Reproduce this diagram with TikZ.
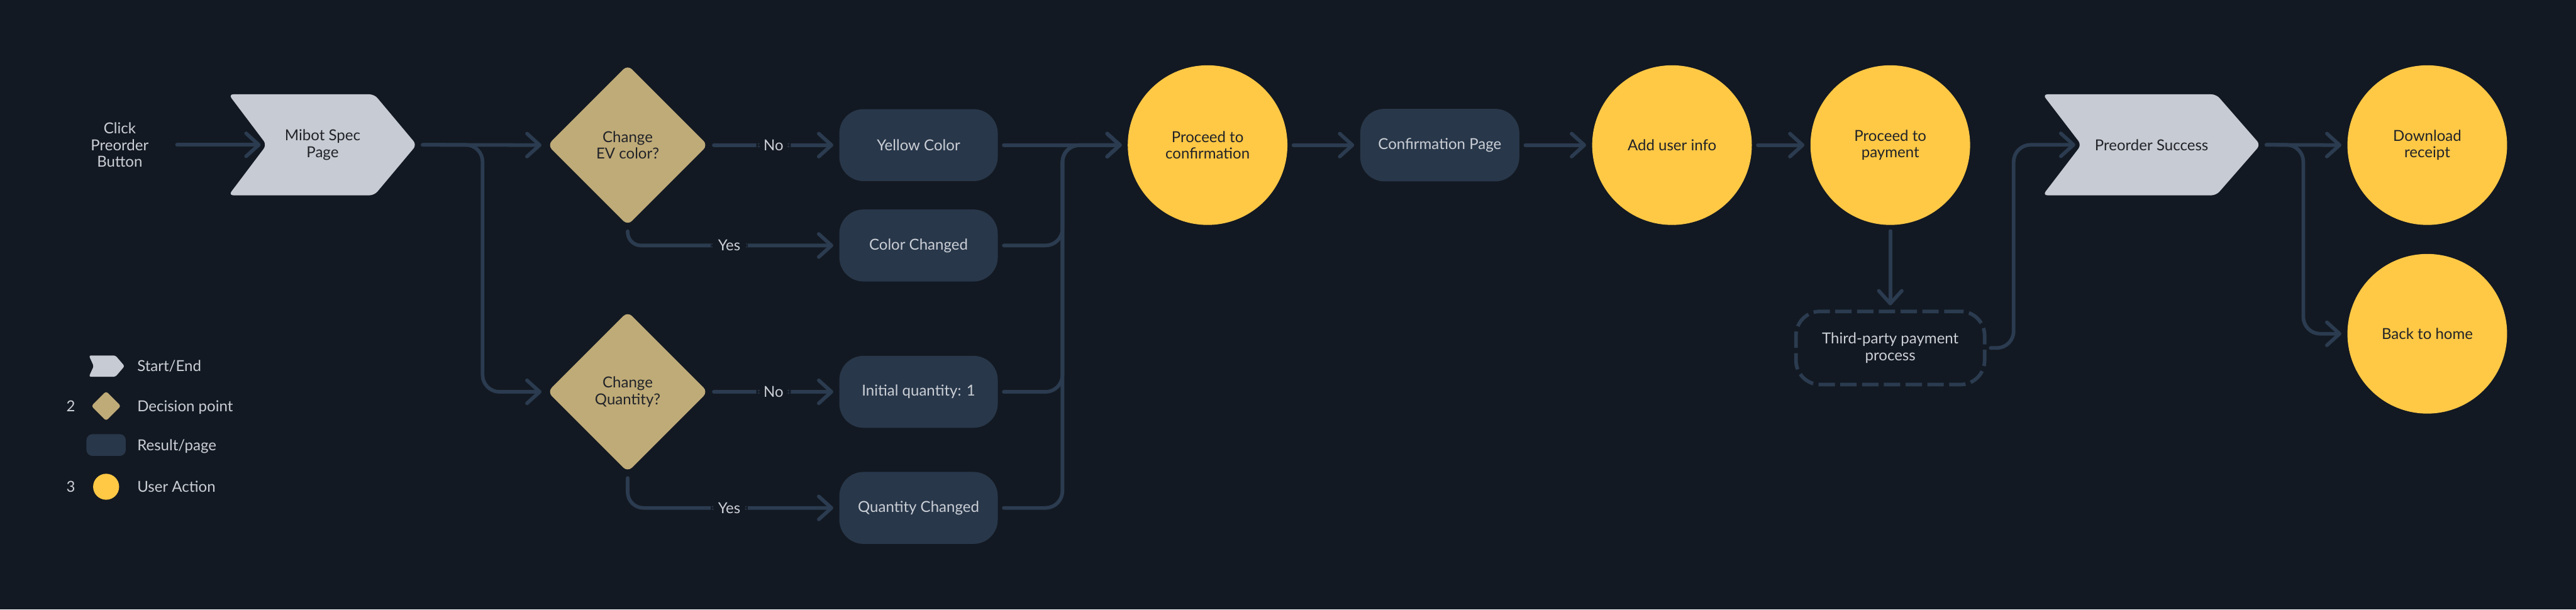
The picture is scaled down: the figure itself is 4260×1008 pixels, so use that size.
\documentclass[tikz,border=0pt]{standalone}
\usepackage{fontspec}
\setmainfont{Lato}
\usetikzlibrary{shapes.geometric,arrows.meta,backgrounds}
\definecolor{bgc}{RGB}{19,25,34}
\definecolor{linec}{RGB}{43,59,80}
\definecolor{boxc}{RGB}{40,55,74}
\definecolor{chevc}{RGB}{199,203,211}
\definecolor{diac}{RGB}{191,171,120}
\definecolor{yelc}{RGB}{255,200,69}
\definecolor{lighttext}{RGB}{203,207,214}
\definecolor{darktext}{RGB}{33,35,40}
\begin{document}
\begin{tikzpicture}[x=1pt,y=-1pt,
  every node/.style={font=\fontsize{25}{27.5}\selectfont, align=center, inner sep=0pt, outer sep=0pt},
  conn/.style={draw=linec, line width=6pt, line cap=round, line join=round, rounded corners=28pt, shorten <=10pt, shorten >=10pt, -{Straight Barb[length=21pt,width=38pt,round]}},
  chevnode/.style={minimum height=167pt, text=darktext},
  chevshape/.style={fill=chevc, rounded corners=8pt},
  decision/.style={diamond, aspect=1, minimum width=265pt, minimum height=265pt, fill=diac, text=darktext, rounded corners=10pt},
  result/.style={rectangle, minimum width=262pt, minimum height=119pt, fill=boxc, rounded corners=40pt, text=lighttext},
  action/.style={circle, minimum size=264pt, fill=yelc, text=darktext},
  external/.style={rectangle, minimum width=312pt, minimum height=121pt, draw=linec, line width=6pt, dash pattern=on 27pt off 9pt, rounded corners=40pt, text=lighttext},
  lab/.style={fill=bgc, inner xsep=12pt, inner ysep=5pt, text=lighttext},
  legtext/.style={anchor=west, text=lighttext, text height=18pt, text depth=0pt},
]
\begin{scope}[on background layer]
  \fill[bgc] (0,0) rectangle (4260,1008);
\end{scope}
\useasboundingbox (0,0) rectangle (4260,1008);

% main nodes
\node[text=lighttext] (click) at (198,239.5) {Click\\Preorder\\Button};
\node[chevnode, minimum width=311pt] (mibot) at (533.5,239.5) {Mibot Spec\\Page};
\node[decision] (ev) at (1038,240) {Change\\EV color?};
\node[decision] (qty) at (1038,648) {Change\\Quantity?};
\node[result] (yellow) at (1519,240) {Yellow Color};
\node[result] (cc) at (1519,406) {Color Changed};
\node[result] (iq) at (1519,648) {Initial quantity: 1};
\node[result] (qc) at (1519,840) {Quantity Changed};
\node[action] (ptc) at (1997,240) {Proceed to\\confirmation};
\node[result, minimum width=263pt, minimum height=120pt] (conf) at (2381,240) {Confirmation Page};
\node[action] (aui) at (2765,240) {Add user info};
\node[action] (ptp) at (3126,240) {Proceed to\\payment};
\node[external] (tpp) at (3126,575.5) {Third-party payment\\process};
\node[chevnode, minimum width=360pt] (ps) at (3558,239.5) {Preorder Success};
\node[action] (dr) at (4014,240) {Download\\receipt};
\node[action] (bh) at (4014,552) {Back to home};

% legend
\node[minimum width=59pt, minimum height=35pt] (legchev) at (176.5,605.5) {};
\node[diamond, aspect=1, minimum width=49pt, minimum height=49pt, fill=diac, rounded corners=4pt] (legdia) at (175.5,671.5) {};
\node[rectangle, minimum width=65pt, minimum height=36pt, fill=boxc, rounded corners=10pt] (legbox) at (175.5,736) {};
\node[circle, minimum size=43pt, fill=yelc] (legcirc) at (175.5,805) {};
\node[legtext] (l1) at (227,605.5) {Start/End};
\node[legtext] (l2) at (227,671.5) {Decision point};
\node[legtext] (l3) at (227,736) {Result/page};
\node[legtext] (l4) at (227,805) {User Action};
\node[text=lighttext, text height=18pt, text depth=0pt] (n2) at (117,671.5) {2};
\node[text=lighttext, text height=18pt, text depth=0pt] (n3) at (117,805) {3};

% chevron shapes
\begin{scope}[on background layer]
  \fill[chevshape] (mibot.north west) -- ([xshift=-70pt]mibot.north east) -- (mibot.east) -- ([xshift=-70pt]mibot.south east) -- (mibot.south west) -- ([xshift=63pt]mibot.west) -- cycle;
  \fill[chevshape] (ps.north west) -- ([xshift=-73pt]ps.north east) -- (ps.east) -- ([xshift=-73pt]ps.south east) -- (ps.south west) -- ([xshift=64pt]ps.west) -- cycle;
  \fill[chevc, rounded corners=3pt] (legchev.north west) -- ([xshift=-15pt]legchev.north east) -- (legchev.east) -- ([xshift=-15pt]legchev.south east) -- (legchev.south west) -- ([xshift=8pt]legchev.west) -- cycle;
\end{scope}

% connectors
\draw[conn, shorten <=47pt] (click.east) -- ([xshift=63pt]mibot.west);
\draw[conn] (mibot.east) -- (ev.west);
\draw[conn] (mibot.east) -- ([xshift=109pt]mibot.east) |- (qty.west);
\draw[conn] (ev.east) -- node[lab]{No} (yellow.west);
\draw[conn, rounded corners=22pt] (ev.south) |- node[lab, pos=0.74]{Yes} (cc.west);
\draw[conn] (qty.east) -- node[lab]{No} (iq.west);
\draw[conn, rounded corners=26pt] (qty.south) |- node[lab, pos=0.74]{Yes} (qc.west);
\draw[conn] (yellow.east) -- (ptc.west);
\draw[conn] (cc.east) -- ++(107,0) |- (ptc.west);
\draw[conn] (iq.east) -- ++(107,0) |- (ptc.west);
\draw[conn] (qc.east) -- ++(107,0) |- (ptc.west);
\draw[conn] (ptc.east) -- (conf.west);
\draw[conn] (conf.east) -- (aui.west);
\draw[conn] (aui.east) -- (ptp.west);
\draw[conn] (ptp.south) -- (tpp.north);
\draw[conn] (tpp.east) -- ++(48,0) |- ([xshift=64pt]ps.west);
\draw[conn] (ps.east) -- (dr.west);
\draw[conn] (ps.east) -- ++(71,0) |- (bh.west);
\end{tikzpicture}
\end{document}
